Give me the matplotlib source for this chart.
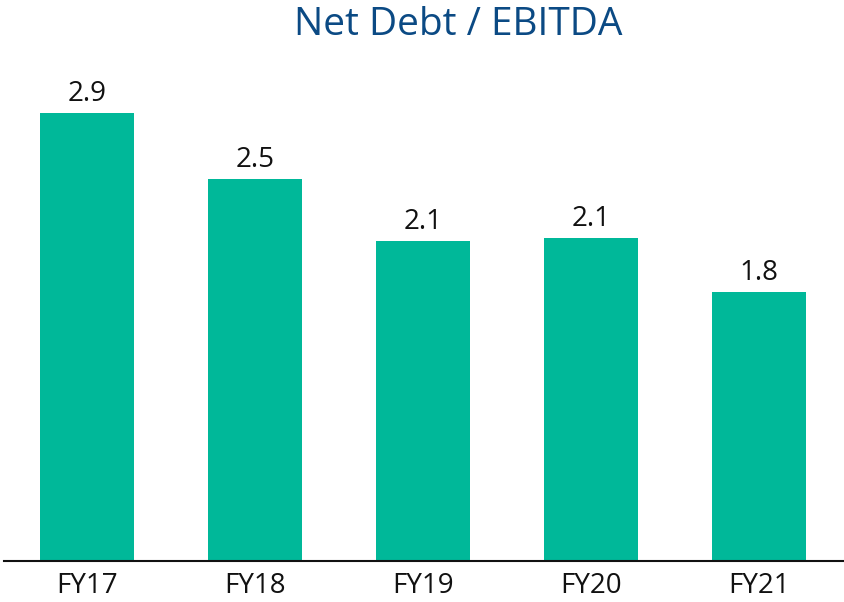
import matplotlib
matplotlib.use("Agg")
import matplotlib.pyplot as plt

categories = ["FY17", "FY18", "FY19", "FY20", "FY21"]
values = [2.9, 2.47, 2.07, 2.09, 1.74]
labels = ["2.9", "2.5", "2.1", "2.1", "1.8"]

plt.rcParams['font.family'] = ['Open Sans', 'DejaVu Sans']

fig = plt.figure(figsize=(8.45, 6.02), dpi=100)
ax = fig.add_axes([4/845, 41/602, 841/845, 501/602])
x = range(len(categories))
bars = ax.bar(x, values, width=0.56, color="#00B899", zorder=2)
for b, lab in zip(bars, labels):
    ax.text(b.get_x() + b.get_width()/2, b.get_height() + 0.035, lab,
            ha="center", va="bottom", fontsize=20, color="#111111")
ax.set_xlim(-0.495, 4.51)
ax.set_ylim(0, 501/154.5)
ax.set_xticks(list(x))
ax.set_xticklabels(categories, fontsize=20, color="#111111")
ax.tick_params(axis="x", length=0, pad=8)
ax.set_yticks([])
for s in ["top", "right", "left"]:
    ax.spines[s].set_visible(False)
ax.spines["bottom"].set_linewidth(1.5)
ax.spines["bottom"].set_color("#111111")
fig.text(458/845, 1 - 25/602, "Net Debt / EBITDA", ha="center", va="center",
         fontsize=28, color="#0B4A84")
fig.savefig("out.png", dpi=100)
